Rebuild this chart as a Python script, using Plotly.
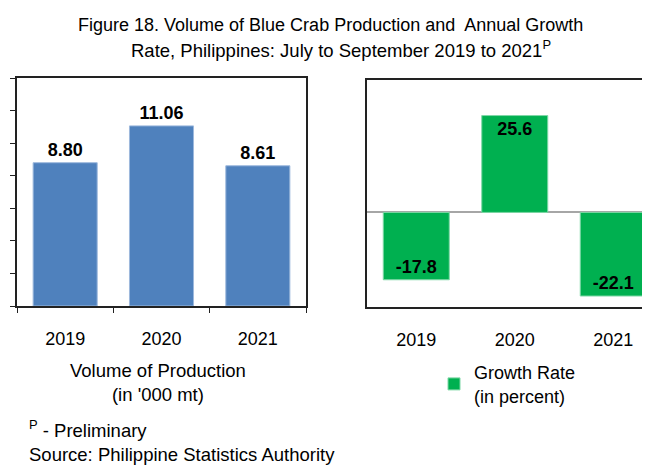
import plotly.graph_objects as go

years = ["2019", "2020", "2021"]
volume = [8.80, 11.06, 8.61]
volume_labels = ["8.80", "11.06", "8.61"]
growth = [-17.8, 25.6, -22.1]
growth_labels = ["-17.8", "25.6", "-22.1"]

FONT = "Liberation Sans, Arial"
W, H = 650, 465
OFF = 8  # default page body margin


def sx(v):
    return (v - OFF) / W


def sy(v):
    return 1 - (v - OFF) / H


fig = go.Figure()
fig.add_trace(go.Bar(
    x=years, y=volume, text=volume_labels, textposition="outside",
    textfont=dict(family=FONT, size=18, color="black", weight="bold"),
    marker=dict(color="#4F81BD", line=dict(color="#9DB9DD", width=1)),
    width=0.665, showlegend=False, cliponaxis=False,
    xaxis="x", yaxis="y",
))
fig.add_trace(go.Bar(
    x=years, y=growth, text=growth_labels, textposition="inside",
    insidetextanchor="end",
    textfont=dict(family=FONT, size=18, color="black", weight="bold"),
    marker=dict(color="#00B050", line=dict(color="#7FD8A7", width=1)),
    width=0.67, name="Growth Rate<br>(in percent)", showlegend=True,
    xaxis="x2", yaxis="y2",
))

fig.update_layout(
    width=W, height=H,
    margin=dict(l=0, r=0, t=0, b=0),
    paper_bgcolor="white", plot_bgcolor="white",
    font=dict(family=FONT, size=18, color="black"),
    xaxis=dict(domain=[sx(17), sx(306)], range=[-0.5, 2.5], showline=True,
               linecolor="#222222", linewidth=1.5, mirror=True, ticks="outside",
               tickson="boundaries", ticklen=5, tickcolor="#222222",
               tickfont=dict(size=18), ticklabelstandoff=16, showgrid=False),
    yaxis=dict(domain=[sy(306), sy(78)], range=[0, 14], dtick=2, showline=True,
               linecolor="#222222", linewidth=1.5, mirror=True, ticks="outside",
               ticklen=5, tickcolor="#222222", showticklabels=False,
               showgrid=False, zeroline=False),
    xaxis2=dict(domain=[sx(367), 1], range=[-0.5, -0.5 + (W + OFF - 367) / 98.5],
                showline=True, linecolor="#222222", linewidth=1.5, mirror=True,
                ticks="", tickfont=dict(size=18), ticklabelstandoff=16,
                showgrid=False, anchor="y2"),
    yaxis2=dict(domain=[sy(307), sy(80)], range=[-25, 35], showline=True,
                linecolor="#222222", linewidth=1.5, mirror=False, ticks="",
                showticklabels=False, showgrid=False, zeroline=True,
                zerolinecolor="#A6A6A6", zerolinewidth=2, anchor="x2"),
    legend=dict(x=sx(434), y=sy(354), xanchor="left", yanchor="top",
                font=dict(size=18), bgcolor="rgba(0,0,0,0)",
                itemwidth=30, tracegroupgap=0),
    annotations=[
        dict(text="Figure 18. Volume of Blue Crab Production and  Annual Growth",
             x=sx(330), y=sy(25), xref="paper", yref="paper", xanchor="center",
             yanchor="middle", showarrow=False, font=dict(size=18)),
        dict(text="Rate, Philippines: July to September 2019 to 2021<sup>P</sup>",
             x=sx(341), y=sy(49), xref="paper", yref="paper", xanchor="center",
             yanchor="middle", showarrow=False, font=dict(size=18.5)),
        dict(text="Volume of Production<br>(in '000 mt)", x=sx(158), y=sy(382.5),
             xref="paper", yref="paper", xanchor="center", yanchor="middle",
             showarrow=False, font=dict(size=18.5), align="center"),
        dict(text="<sup>P</sup> - Preliminary<br>Source: Philippine Statistics Authority",
             x=sx(27), y=sy(441), xref="paper", yref="paper", xanchor="left",
             yanchor="middle", showarrow=False, font=dict(size=18.5), align="left"),
    ],
)

fig.write_html("out.html")
